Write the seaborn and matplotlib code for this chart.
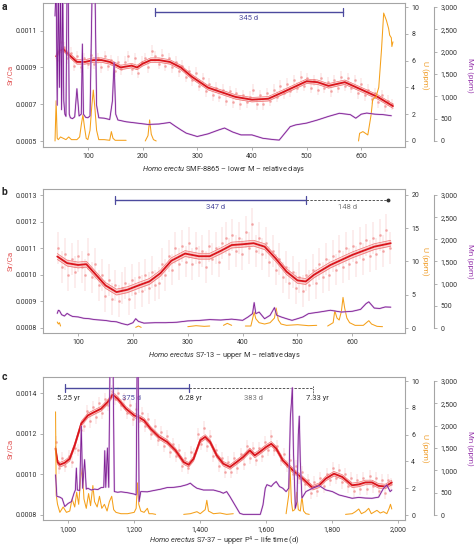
import numpy as np
import matplotlib
matplotlib.use("Agg")
import matplotlib.pyplot as plt
import matplotlib.transforms as mtransforms
from matplotlib.ticker import FuncFormatter
import seaborn as sns

nan = np.nan

# ---------------- panel a : SMF-8865 ----------------
a_curve_x = [42, 48, 55, 65, 80, 95, 110, 125, 140, 160, 180, 190, 200, 215, 230, 250, 270, 290,
             320, 340, 370, 400, 430, 460, 500, 520, 540, 570, 600, 630, 658]
a_curve_y = [0.00096, 0.00099, 0.00100, 0.00097, 0.00093, 0.00093, 0.00094, 0.00094, 0.00093,
             0.00090, 0.00091, 0.00090, 0.00092, 0.00094, 0.00094, 0.00093, 0.00090, 0.00085,
             0.00079, 0.00077, 0.00074, 0.000725, 0.00073, 0.00077, 0.000825, 0.00082, 0.00080,
             0.00082, 0.00078, 0.00074, 0.00069]
a_pts = [0.94, 1.04, 1.01, 0.95, 0.98, 0.91, 0.96, 0.90, 0.95, 0.92,
         0.97, 0.92, 0.95, 0.90, 0.96, 0.91, 0.94, 0.88, 0.93, 0.89,
         0.93, 0.96, 0.89, 0.95, 0.87, 0.93, 0.95, 0.90, 0.99, 0.96,
         0.92, 0.97, 0.91, 0.95, 0.90, 0.93, 0.88, 0.91, 0.85, 0.88,
         0.83, 0.87, 0.80, 0.84, 0.77, 0.81, 0.75, 0.79, 0.74, 0.78,
         0.72, 0.77, 0.71, 0.76, 0.70, 0.75, 0.71, 0.74, 0.78, 0.70,
         0.75, 0.70, 0.76, 0.72, 0.78, 0.74, 0.80, 0.76, 0.81, 0.77,
         0.83, 0.79, 0.85, 0.80, 0.84, 0.79, 0.83, 0.78, 0.84, 0.79,
         0.82, 0.77, 0.83, 0.79, 0.85, 0.80, 0.84, 0.79, 0.83, 0.76,
         0.81, 0.75, 0.78, 0.73, 0.76, 0.71, 0.75, 0.69, 0.72, 0.70]
a_mn_x = [40, 42, 44, 46, 48, 50, 52, 54, 56, 58, 60, 62, 64, 66, 68, 72, 76, 80, 84, 88, 90, 92,
          96, 100, 104, 108, 110, 113, 116, 120, 130, 140, 145, 148, 151, 155, 170, 190, 210, 230,
          250, 260, 270, 280, 300, 320, 340, 350, 365, 380, 400, 420, 440, 450, 460, 470, 480, 500,
          520, 540, 560, 580, 590, 600, 610, 625, 640, 655]
a_mn = [2800, 3500, 800, 3500, 1200, 3500, 700, 3500, 900, 600, 550, 3500, 3500, 600, 520, 500,
        540, 1170, 560, 600, 2170, 600, 530, 520, 560, 3500, 3500, 3500, 800, 520, 510, 480, 900,
        1760, 600, 470, 430, 400, 370, 380, 415, 330, 250, 175, 100, 160, 250, 290, 200, 136, 136,
        60, 30, 20, 170, 320, 360, 400, 470, 550, 620, 590, 510, 600, 625, 600, 590, 565]
a_u_x = [40, 42, 44, 46, 50, 55, 60, 65, 70, 80, 85, 88, 91, 94, 97, 100, 104, 107, 110, 113, 116,
         120, 130, 140, 143, 146, 150, 160, 170, 190, 205, 210, 213, 216, 220, 225, 400, 595, 597,
         603, 612, 618, 621, 627, 632, 637, 641, 646, 650, 652, 655, 656, 658]
a_u = [0, 3.0, 0.2, 0.1, 0.3, 0.2, 0.1, 0.3, 0.1, 0.1, 0.3, 1.2, 1.95, 1.0, 0.2, 0.1, 0.8, 2.5,
       3.8, 2.4, 0.8, 0.1, 0.1, 0.05, 0.7, 0.2, 0.05, 0.05, 0.05, nan, 0, 0.4, 1.57, 0.5, 0.1, 0,
       nan, 0, 0.57, 0.7, 0.45, 1.95, 3.1, 3.3, 4.0, 6.8, 9.55, 9.0, 8.4, 7.9, 7.7, 7.05, 7.4]

# ---------------- panel b : S7-13 ----------------
b_curve_x = [62, 80, 100, 115, 130, 150, 170, 190, 210, 230, 250, 270, 295, 320, 340, 360, 380,
             400, 420, 440, 460, 480, 500, 515, 530, 560, 600, 640, 670]
b_curve_y = [0.001069, 0.001044, 0.001037, 0.00104, 0.001006, 0.00096, 0.000935, 0.000944,
             0.00096, 0.000975, 0.001006, 0.001053, 0.00108, 0.00107, 0.00107, 0.00109, 0.001112,
             0.001115, 0.001119, 0.001106, 0.001062, 0.001012, 0.000979, 0.000975, 0.001,
             0.001037, 0.001075, 0.001106, 0.001119]
b_pts = [1.10, 1.03, 1.08, 1.00, 1.06, 1.01, 1.07, 1.03, 1.00, 1.08,
         0.99, 1.04, 0.96, 1.00, 0.92, 0.98, 0.91, 0.96, 0.90, 0.95,
         0.97, 0.91, 0.98, 0.93, 0.99, 0.94, 1.00, 0.95, 1.01, 0.96,
         0.97, 1.04, 1.00, 1.07, 1.02, 1.10, 1.04, 1.11, 1.05, 1.12,
         1.04, 1.10, 1.05, 1.09, 1.03, 1.11, 1.06, 1.10, 1.05, 1.12,
         1.14, 1.08, 1.15, 1.09, 1.14, 1.08, 1.16, 1.10, 1.19, 1.09,
         1.14, 1.08, 1.12, 1.05, 1.09, 1.02, 1.06, 0.99, 1.03, 0.97,
         1.01, 0.95, 0.99, 0.94, 1.00, 0.96, 1.02, 0.97, 1.04, 0.99,
         1.06, 1.00, 1.07, 1.02, 1.09, 1.03, 1.10, 1.04, 1.11, 1.05,
         1.12, 1.06, 1.13, 1.07, 1.14, 1.08, 1.15, 1.09, 1.17, 1.10]
b_mn_x = [62, 64, 66, 70, 75, 80, 85, 90, 100, 110, 120, 130, 140, 150, 160, 170, 180, 190, 200,
          205, 210, 220, 240, 260, 280, 300, 320, 340, 360, 380, 400, 410, 418, 421, 424, 430, 440,
          450, 458, 462, 470, 480, 490, 500, 510, 520, 540, 560, 580, 600, 615, 625, 630, 640, 650,
          660, 670]
b_mn = [330, 400, 390, 300, 270, 330, 290, 260, 250, 220, 210, 190, 180, 170, 150, 140, 100, 70,
        120, 210, 150, 110, 120, 120, 130, 160, 170, 190, 180, 200, 173, 250, 324, 573, 324, 360,
        210, 286, 460, 290, 250, 210, 173, 210, 250, 324, 360, 400, 360, 377, 420, 550, 590, 450,
        440, 475, 470]
b_u_x = [62, 64, 66, 68, 70, 200, 205, 210, 215, 290, 300, 315, 330, 340, 350, 365, 372, 380,
         390, 405, 415, 421, 424, 430, 440, 450, 458, 461, 465, 470, 480, 500, 520, 535, 545, 555,
         565, 568, 572, 576, 580, 583, 586, 590, 595, 605, 620, 630, 635, 645, 655]
b_u = [0.9, 0.6, 0.8, 0.3, nan, nan, 0.1, 0.3, 0.1, nan, 0.2, 0.35, 0.25, 0.3, nan, 0.4, 0.7,
       0.4, nan, 0.3, 0.3, 2.4, 1.4, 0.8, 0.6, 0.8, 1.5, 3.0, 1.2, 0.6, 0.4, 0.5, 0.35, 0.4, nan,
       0.3, 0.8, 2.6, 1.5, 1.2, 2.5, 4.6, 3.0, 1.5, 0.8, 0.4, 0.4, 1.1, 0.6, 0.25, 0.2]

# ---------------- panel c : S7-37 ----------------
c_curve_x = [962, 968, 975, 990, 1005, 1020, 1040, 1060, 1080, 1100, 1120, 1135, 1150, 1175, 1200,
             1215, 1230, 1250, 1275, 1300, 1325, 1350, 1365, 1380, 1400, 1415, 1430, 1450, 1470,
             1490, 1510, 1530, 1550, 1565, 1580, 1600, 1615, 1630, 1650, 1680, 1710, 1740, 1760,
             1780, 1805, 1830, 1860, 1880, 1900, 1920, 1940, 1960, 1980]
c_curve_y = [1.127, 1.06, 1.047, 1.057, 1.077, 1.143, 1.25, 1.29, 1.307, 1.323, 1.356, 1.392,
             1.372, 1.323, 1.29, 1.28, 1.265, 1.224, 1.184, 1.159, 1.118, 1.06, 1.047, 1.077,
             1.167, 1.184, 1.159, 1.093, 1.052, 1.036, 1.06, 1.085, 1.118, 1.093, 1.11, 1.135,
             1.15, 1.127, 1.069, 1.02, 0.979, 0.934, 0.946, 0.979, 1.003, 0.987, 0.946, 0.95,
             0.96, 0.96, 0.943, 0.94, 0.96]
c_pts = [1.16, 1.03, 1.08, 1.04, 1.09, 1.06, 1.13, 1.12, 1.22, 1.24,
         1.31, 1.26, 1.33, 1.28, 1.35, 1.30, 1.37, 1.34, 1.41, 1.37,
         1.40, 1.34, 1.37, 1.30, 1.34, 1.27, 1.32, 1.26, 1.30, 1.24,
         1.27, 1.20, 1.24, 1.17, 1.21, 1.14, 1.19, 1.11, 1.15, 1.09,
         1.12, 1.04, 1.08, 1.03, 1.11, 1.10, 1.20, 1.15, 1.23, 1.14,
         1.19, 1.09, 1.12, 1.04, 1.08, 1.01, 1.06, 1.01, 1.08, 1.03,
         1.10, 1.05, 1.14, 1.08, 1.13, 1.07, 1.13, 1.09, 1.16, 1.12,
         1.19, 1.12, 1.14, 1.07, 1.10, 1.04, 1.07, 1.00, 1.04, 0.98,
         1.01, 0.95, 0.97, 0.91, 0.96, 0.92, 0.98, 0.94, 1.00, 0.97,
         1.03, 0.98, 1.02, 0.96, 1.00, 0.94, 0.98, 0.92, 0.97, 0.93,
         0.98, 0.93, 0.99, 0.94, 0.98, 0.92, 0.97, 0.91, 0.97, 0.95]
c_mn_x = [962, 966, 975, 982, 990, 1000, 1010, 1018, 1022, 1025, 1028, 1035, 1040, 1044, 1050,
          1055, 1060, 1070, 1080, 1090, 1100, 1108, 1111, 1114, 1119, 1123, 1127, 1130, 1133, 1136,
          1140, 1150, 1160, 1180, 1200, 1206, 1209, 1212, 1215, 1220, 1240, 1260, 1280, 1300, 1320,
          1340, 1360, 1370, 1380, 1390, 1410, 1420, 1440, 1460, 1470, 1480, 1490, 1505, 1520, 1530,
          1550, 1570, 1582, 1590, 1597, 1602, 1615, 1622, 1630, 1640, 1650, 1660, 1668, 1673, 1676,
          1679, 1682, 1688, 1693, 1697, 1700, 1703, 1708, 1720, 1740, 1760, 1780, 1800, 1820, 1840,
          1860, 1880, 1900, 1920, 1940, 1955, 1965, 1975, 1980]
c_mn = [900, 420, 400, 370, 190, 260, 300, 490, 560, 1050, 560, 550, 1990, 600, 1240, 580, 600,
        560, 580, 570, 615, 620, 1440, 620, 1500, 620, 3500, 3500, 3500, 3500, 525, 510, 520, 500,
        470, 450, 3500, 3500, 300, 525, 520, 550, 578, 615, 620, 640, 680, 713, 650, 600, 560, 560,
        560, 520, 488, 525, 413, 225, 38, 15, 15, 15, 15, 225, 600, 680, 640, 700, 750, 638, 600,
        525, 600, 2200, 2500, 2850, 1500, 150, 300, 1800, 2213, 1200, 380, 525, 600, 660, 562, 525,
        450, 413, 375, 395, 380, 375, 400, 600, 675, 525, 560]
c_u_x = [962, 964, 968, 975, 985, 995, 1005, 1012, 1020, 1026, 1032, 1038, 1043, 1048, 1055, 1062,
         1068, 1075, 1080, 1088, 1095, 1102, 1110, 1118, 1125, 1132, 1138, 1145, 1160, 1180, 1200,
         1206, 1210, 1214, 1220, 1230, 1240, 1245, 1255, 1265, 1300, 1350, 1370, 1390, 1400, 1415,
         1420, 1425, 1440, 1460, 1480, 1500, 1600, 1660, 1668, 1672, 1676, 1680, 1686, 1692, 1697,
         1703, 1708, 1713, 1720, 1730, 1800, 1840, 1860, 1870, 1880, 1888, 1900, 1910, 1918, 1935,
         1945, 1955, 1965, 1972, 1976, 1980]
c_u = [7.7, 1.5, 0.8, 0.2, 0.6, 0.2, 0.3, 1.2, 0.6, 1.7, 0.8, 2.7, 3.5, 1.2, 0.5, 1.6, 0.7, 2.2,
       1.0, 0.6, 1.4, 0.5, 0.8, 0.3, 1.0, 1.4, 0.4, 0.2, 0.1, 0.1, 0.2, 0.5, 2.4, 0.8, 0.3, 0.2,
       0.5, 0.1, 0.1, 0.05, nan, 0.05, 0.1, 0.25, 0.1, 0.4, 1.1, 0.3, 0.1, 0.15, 0.05, 0.1, nan,
       0.1, 1.5, 3.5, 1.0, 0.3, 0.4, 1.7, 0.4, 0.3, 1.4, 0.3, 0.1, 0.05, nan, 0.05, 0.1, 0.25, 0.45,
       0.1, 0.25, 0.5, 0.1, 0.35, 0.15, 0.25, 0.1, 0.5, 0.8, 0.45]

# colours
RED = "#d9141b"
PINK = "#f29a9a"
PURPLE = "#7d1e93"
LAVENDER = "#d3a6df"
ORANGE = "#f5a01a"
BAR = "#4c4a9e"
GRID = "#a5a5a5"
TXT = "#333333"

sns.set_style("white")
plt.rcParams["font.family"] = ["Roboto", "DejaVu Sans"]
plt.rcParams["mathtext.fontset"] = "custom"
plt.rcParams["mathtext.rm"] = "Roboto"
plt.rcParams["mathtext.it"] = "Roboto:italic"

fig = plt.figure(figsize=(4.74, 5.48), dpi=100)
W, H = 474, 548


def add_axes(top, bottom, left=43, right=405):
    return fig.add_axes([left / W, 1 - bottom / H, (right - left) / W, (bottom - top) / H])


comma = FuncFormatter(lambda v, p: f"{v:,.0f}")


def draw_panel(ax, cx, cy, band, pts, perr, mn_x, mn, u_x, u, xlim, xticks, srlim, srticks,
               ulim, uticks, umax, xlabel, xcomma, lpad=3):
    cx = np.array(cx)
    cy = np.array(cy)
    px = np.linspace(cx[0] + 2, cx[-1] - 2, len(pts))
    py = np.array(pts) * 1e-3
    ax.errorbar(px, py, yerr=perr, fmt="o", ms=1.0, color=PINK, ecolor=PINK,
                elinewidth=0.35, alpha=0.7, zorder=1)
    ax.fill_between(cx, cy - band, cy + band, color="#f5a0a0", alpha=0.45, lw=0, zorder=2)
    ax.plot(cx, cy - band, color="#f07070", lw=0.5, zorder=3)
    ax.plot(cx, cy + band, color="#f07070", lw=0.5, zorder=3)
    sns.lineplot(x=cx, y=cy, ax=ax, color=RED, lw=1.3, estimator=None, sort=False, zorder=4)
    ax.set_xlim(xlim)
    ax.set_ylim(srlim)
    ax.set_xticks(xticks)
    ax.set_yticks(srticks)
    ax.yaxis.set_major_formatter(FuncFormatter(lambda v, p: f"{v:.4f}"))
    if xcomma:
        ax.xaxis.set_major_formatter(comma)
    for s in ax.spines.values():
        s.set_color(GRID)
        s.set_linewidth(0.8)
    ax.tick_params(axis="both", labelsize=5, colors=TXT, length=2.5, width=0.6, pad=2,
                   direction="out", left=True, bottom=True)
    ax.tick_params(axis="both", color=GRID)
    ax.set_xlabel(xlabel, fontsize=5.3, color=TXT, labelpad=lpad)
    ax.set_ylabel("")
    ax.text(-0.09, 0.5, "Sr/Ca", transform=ax.transAxes, rotation=90, ha="center",
            va="center", fontsize=5.8, color="#e25555")

    # U axis (right frame)
    ax_u = ax.twinx()
    ax_u.set_ylim(ulim)
    ax_u.set_yticks(uticks)
    ax_u.plot(u_x, u, color=ORANGE, lw=0.75)
    ax_u.tick_params(axis="y", labelsize=5, colors=TXT, length=2.5, width=0.6, pad=2,
                     right=True)
    ax_u.tick_params(axis="y", color=GRID)
    for s in ax_u.spines.values():
        s.set_visible(False)
    ax.text(1.055, 0.5, "U (ppm)", transform=ax.transAxes, rotation=270, ha="center",
            va="center", fontsize=5.8, color="#f0a030")

    # Mn axis (offset)
    ax_mn = ax.twinx()
    k = 3000 / umax
    ax_mn.set_ylim(ulim[0] * k, ulim[1] * k)
    ax_mn.set_yticks([0, 500, 1000, 1500, 2000, 2500, 3000])
    ax_mn.yaxis.set_major_formatter(comma)
    ax_mn.plot(mn_x, mn, color=LAVENDER, lw=1.3, alpha=0.7)
    ax_mn.plot(mn_x, mn, color=PURPLE, lw=0.6)
    for name, s in ax_mn.spines.items():
        s.set_visible(name == "right")
    ax_mn.spines["right"].set_position(("outward", 21))
    ax_mn.spines["right"].set_bounds(0, 3000)
    ax_mn.spines["right"].set_color(GRID)
    ax_mn.spines["right"].set_linewidth(0.8)
    ax_mn.tick_params(axis="y", labelsize=5, colors=TXT, length=2.5, width=0.6, pad=2)
    ax_mn.tick_params(axis="y", color=GRID)
    ax.text(1.18, 0.5, "Mn (ppm)", transform=ax.transAxes, rotation=270, ha="center",
            va="center", fontsize=5.8, color="#9b3fb0")
    return ax_u


def span(ax, x0, x1, yb, dashed=False, dot=False, endtick=True):
    tr = mtransforms.blended_transform_factory(ax.transData, ax.transAxes)
    if dashed:
        ax.plot([x0, x1], [yb, yb], transform=tr, color="#555555", lw=0.7, ls=(0, (2.5, 1.5)),
                zorder=6, clip_on=False)
        if dot:
            ax.plot([x1], [yb], "o", ms=1.8, color="#333333", transform=tr, zorder=6)
    else:
        ax.plot([x0, x1], [yb, yb], transform=tr, color=BAR, lw=1.0, zorder=6)
        if endtick:
            for xx in (x0, x1):
                ax.plot([xx, xx], [yb - 0.03, yb + 0.03], transform=tr, color=BAR, lw=0.9,
                        zorder=6)


def label(ax, x, yb, s, color):
    tr = mtransforms.blended_transform_factory(ax.transData, ax.transAxes)
    ax.text(x, yb, s, transform=tr, ha="center", va="center", fontsize=5.5, color=color, zorder=7)


# panel a
ax_a = add_axes(3, 147)
draw_panel(ax_a, a_curve_x, a_curve_y, 0.000012, a_pts, 0.00003, a_mn_x, a_mn, a_u_x, a_u,
           (18, 680), [100, 200, 300, 400, 500, 600], (0.000468, 0.00125),
           [0.0005, 0.0007, 0.0009, 0.0011], (-0.45, 10.3), [0, 2, 4, 6, 8, 10], 10,
           r"$\it{Homo\ erectu}$ SMF-8865 – lower M – relative days", False)
span(ax_a, 222, 566, 0.9375)
label(ax_a, 393, 0.893, "345 d", BAR)

# panel b
ax_b = add_axes(189, 333)
draw_panel(ax_b, b_curve_x, b_curve_y, 0.000011, b_pts, 0.00006, b_mn_x, b_mn, b_u_x, b_u,
           (36, 696), [100, 200, 300, 400, 500, 600], (0.000781, 0.001323),
           [0.0008, 0.0009, 0.0010, 0.0011, 0.0012, 0.0013], (-0.75, 20.9), [0, 5, 10, 15, 20], 20,
           r"$\it{Homo\ erectus}$ S7-13 – upper M – relative days", False)
span(ax_b, 168, 516, 0.924)
span(ax_b, 516, 665, 0.924, dashed=True, dot=True)
label(ax_b, 350, 0.872, "347 d", BAR)
label(ax_b, 591, 0.872, "148 d", "#777777")

# panel c
ax_c = add_axes(377, 520)
draw_panel(ax_c, c_curve_x, np.array(c_curve_y) * 1e-3, 0.000011, c_pts, 0.00003, c_mn_x, c_mn,
           c_u_x, c_u, (924, 2020), [1000, 1200, 1400, 1600, 1800, 2000], (0.000775, 0.001479),
           [0.0008, 0.0010, 0.0012, 0.0014], (-0.37, 10.3), [0, 2, 4, 6, 8, 10], 10,
           r"$\it{Homo\ erectus}$ S7-37 – upper P$^4$ – life time (d)", True, lpad=1)
span(ax_c, 990, 1367, 0.923)
span(ax_c, 1367, 1740, 0.923, dashed=True)
tr_c = mtransforms.blended_transform_factory(ax_c.transData, ax_c.transAxes)
ax_c.plot([1740, 1740], [0.94, 0.88], transform=tr_c, color="#555555", lw=0.7,
          ls=(0, (1.5, 1)), zorder=6)
label(ax_c, 1000, 0.855, "5.25 yr", TXT)
label(ax_c, 1193, 0.855, "375 d", BAR)
label(ax_c, 1372, 0.855, "6.28 yr", TXT)
label(ax_c, 1561, 0.855, "383 d", "#777777")
label(ax_c, 1755, 0.855, "7.33 yr", TXT)

for s, ytop in (("a", 2), ("b", 187), ("c", 372)):
    fig.text(2 / W, 1 - ytop / H, s, fontsize=7.5, fontweight="bold", ha="left", va="top")

fig.savefig("out.png", dpi=100)
